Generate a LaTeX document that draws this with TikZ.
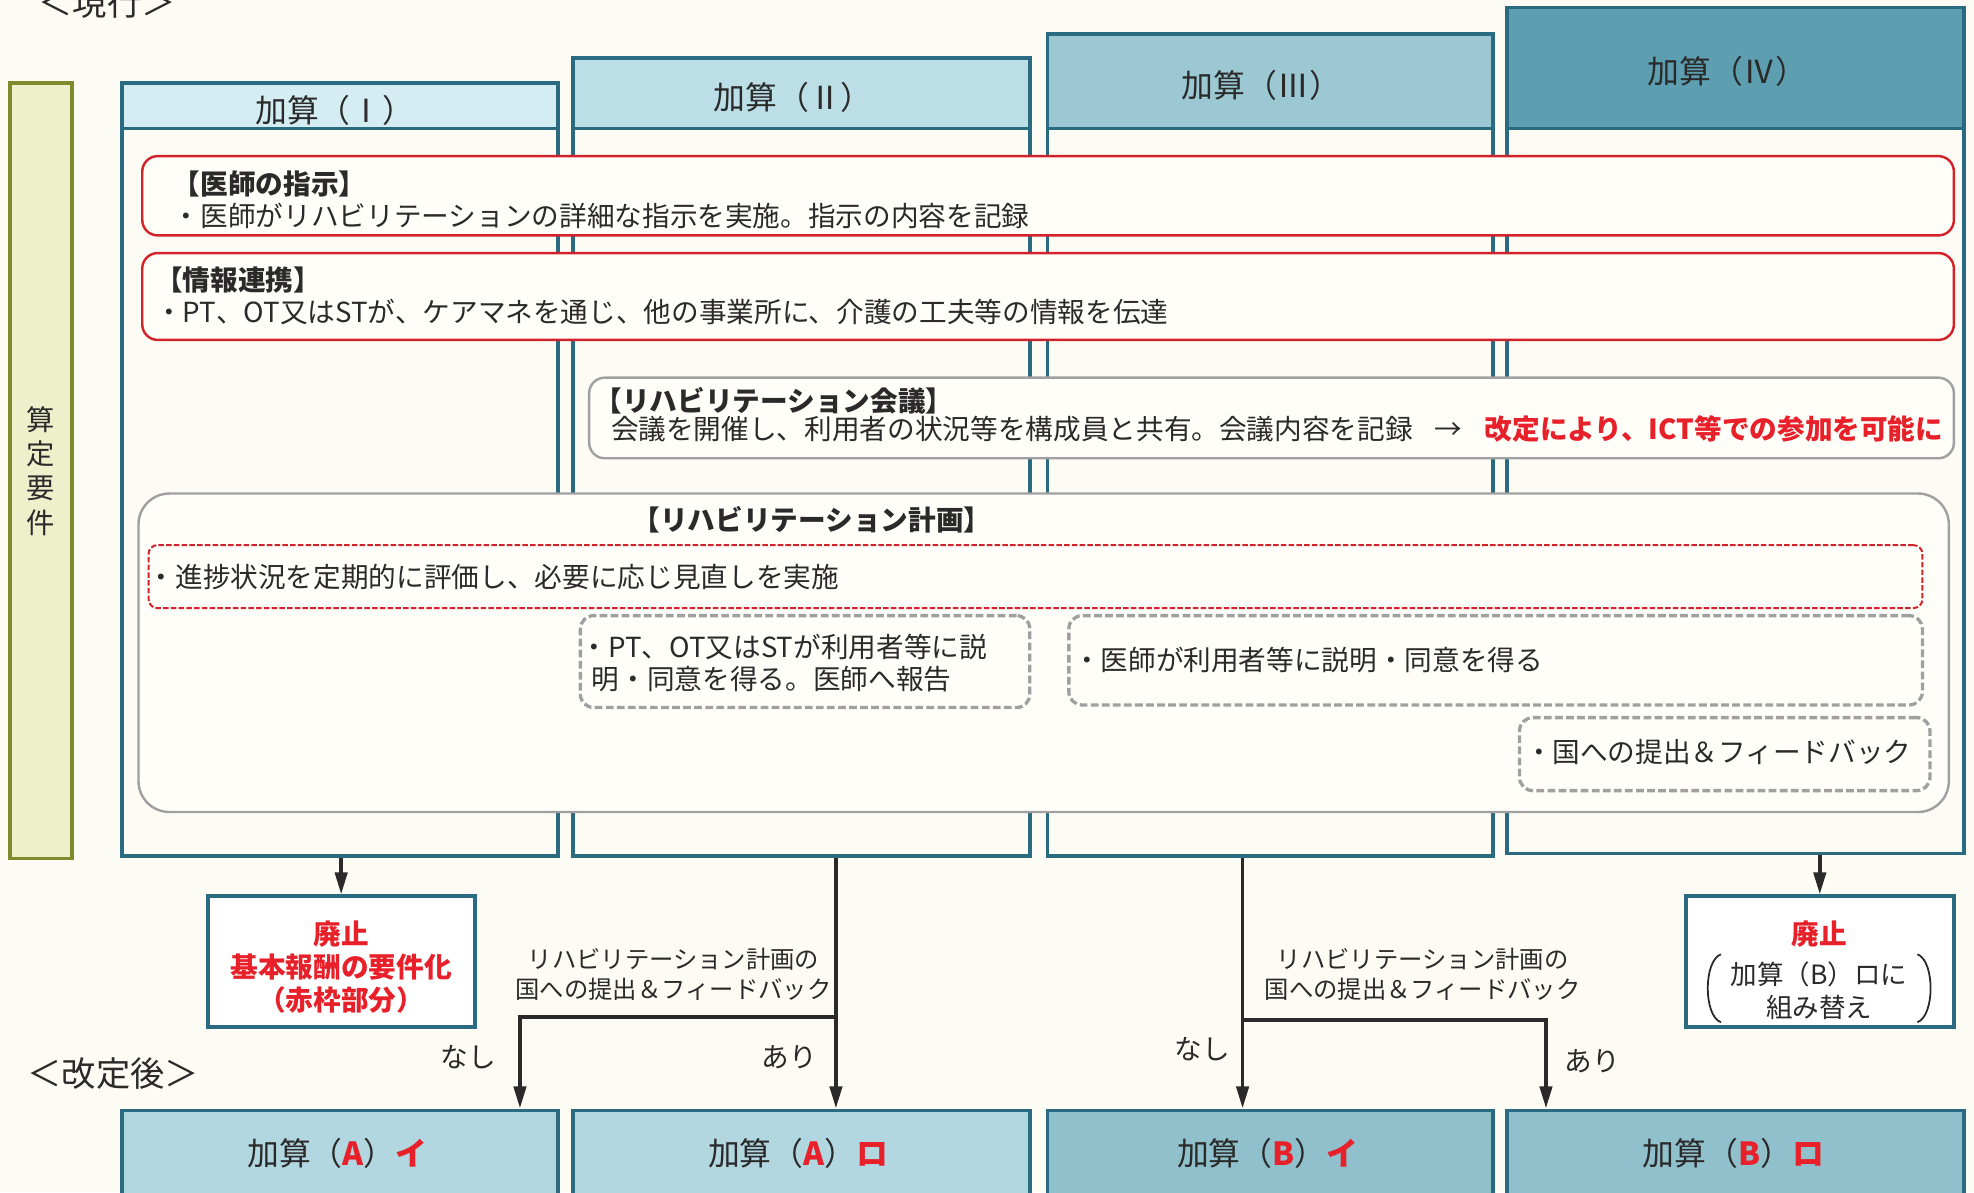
\documentclass[tikz,border=0pt]{standalone}
\usepackage{fontspec}
\setmainfont{Noto Sans CJK JP}
\usetikzlibrary{arrows.meta,fit}

\definecolor{paper}{HTML}{FDFCF4}
\definecolor{boxfill}{HTML}{FFFEF9}
\definecolor{frame}{HTML}{2B6B82}
\definecolor{hdrI}{HTML}{D4EDF2}
\definecolor{hdrII}{HTML}{BCDFE7}
\definecolor{hdrIII}{HTML}{9CC8D3}
\definecolor{hdrIV}{HTML}{5E9EB1}
\definecolor{resA}{HTML}{B3D7E0}
\definecolor{resB}{HTML}{8FC0CC}
\definecolor{boxred}{HTML}{D2232A}
\definecolor{boxgray}{HTML}{A0A0A0}
\definecolor{textred}{HTML}{E8202A}
\definecolor{barfill}{HTML}{EEF0CC}
\definecolor{barframe}{HTML}{7E8C2E}
\definecolor{ink}{HTML}{2A2A2A}

\newcommand{\redbf}[1]{\textcolor{textred}{\bfseries #1}}

\begin{document}
\begin{tikzpicture}[x=0.02cm, y=-0.02cm, font=\fontsize{12.5}{14.5}\selectfont, text=ink,
	colbox/.style={draw=frame, line width=1.7pt, inner sep=0pt},
	hdrtext/.style={inner sep=0pt, font=\fontsize{14.4}{16}\selectfont},
	reqbar/.style={draw=barframe, fill=barfill, line width=1.7pt, inner sep=0pt},
	reqred/.style={draw=boxred, fill=boxfill, line width=1.1pt, rounded corners=7pt, inner sep=0pt},
	reqgray/.style={draw=boxgray, fill=boxfill, line width=1.1pt, rounded corners=7pt, inner sep=0pt},
	dashred/.style={draw=boxred, line width=0.9pt, dash pattern=on 2.5pt off 1pt, rounded corners=4pt, inner sep=0pt},
	dashgray/.style={draw=boxgray, line width=1.5pt, dash pattern=on 3.5pt off 1.5pt, rounded corners=6pt, inner sep=0pt},
	txt/.style={anchor=west, inner sep=0pt, align=left},
	boldtxt/.style={inner sep=0pt, font=\fontsize{12.5}{15}\selectfont\bfseries},
	note/.style={font=\fontsize{11}{13.7}\selectfont, align=center, inner sep=0pt},
	stage/.style={font=\fontsize{15.5}{18}\selectfont, inner sep=0pt},
	flow/.style={draw=ink, line width=1.7pt, -{Triangle[length=10pt, width=5.5pt]}}]
	\path[use as bounding box, fill=paper] (0,0) rectangle (1568,947);

	% stage titles
	\node[stage] (now) at (85,2) {＜現行＞};
	\node[stage] (after) at (90,853) {＜改定後＞};

	% requirement bar
	\node[reqbar, fit={(8,66) (57,682)}] (req) {};
	\node[align=center, inner sep=0pt, font=\fontsize{12.8}{15.5}\selectfont] at (req.center) {算\\定\\要\\件};

	% current columns
	\node[colbox, fill=paper, fit={(97,102) (443,680)}] (c1) {};
	\node[colbox, fill=paper, fit={(455,102) (818,680)}] (c2) {};
	\node[colbox, fill=paper, fit={(832,102) (1186,680)}] (c3) {};
	\node[colbox, fill=paper, fit={(1197,102) (1560,678)}] (c4) {};
	\node[colbox, fill=hdrI, fit={(97,66) (443,102)}] (h1) {};
	\node[colbox, fill=hdrII, fit={(455,46) (818,102)}] (h2) {};
	\node[colbox, fill=hdrIII, fit={(832,27) (1186,102)}] (h3) {};
	\node[colbox, fill=hdrIV, fit={(1197,6) (1560,102)}] (h4) {};
	\node[hdrtext] at (266,88) {加算（Ⅰ）};
	\node[hdrtext] at (630,77) {加算（Ⅱ）};
	\node[hdrtext] at (1002,68) {加算（Ⅲ）};
	\node[hdrtext] at (1372,57) {加算（Ⅳ）};

	% requirements
	\node[reqred, fit={(113,124) (1552,187)}] (doc) {};
	\node[txt] (docT) at (137,158.5) {{\bfseries 【医師の指示】}\\・医師がリハビリテーションの詳細な指示を実施。指示の内容を記録};
	\node[reqred, fit={(113,201) (1552,270)}] (info) {};
	\node[txt] (infoT) at (123,235) {{\bfseries 【情報連携】}\\・PT、OT又はSTが、ケアマネを通じ、他の事業所に、介護の工夫等の情報を伝達};
	\node[reqgray, fit={(468,300) (1552,364)}] (meet) {};
	\node[txt] (meetT) at (472,318) {\bfseries 【リハビリテーション会議】};
	\node[txt] (meetB) at (485,341) {会議を開催し、利用者の状況等を構成員と共有。会議内容を記録\hspace{0.8em}→\hspace{0.8em}\redbf{改定により、ICT等での参加を可能に}};

	\node[reqgray, rounded corners=14pt, fit={(110,392) (1548,645)}] (plan) {};
	\node[boldtxt] (planT) at (645,413) {【リハビリテーション計画】};
	\node[dashred, fit={(118,433) (1527,483)}] (review) {};
	\node[txt] at (117,458) {・進捗状況を定期的に評価し、必要に応じ見直しを実施};
	\node[dashgray, fit={(461,489) (818,562)}] (pt) {};
	\node[txt] at (461,527) {・PT、OT又はSTが利用者等に説\\\hspace{0.4em}明・同意を得る。医師へ報告};
	\node[dashgray, fit={(849,489) (1527,560)}] (dr) {};
	\node[txt] at (852,524) {・医師が利用者等に説明・同意を得る};
	\node[dashgray, fit={(1207,570) (1533,628)}] (fb) {};
	\node[txt] at (1211,597) {・国への提出＆フィードバック};

	% abolished
	\node[colbox, fill=white, fit={(165,712) (377,816)}] (abol1) {};
	\node[boldtxt, align=center, text=textred] at (271,768) {廃止\\基本報酬の要件化\\（赤枠部分）};
	\node[colbox, fill=white, fit={(1339,712) (1552,816)}] (abol4) {};
	\node[boldtxt, text=textred] at (1445,742) {廃止};
	\node[align=center, inner sep=0pt, font=\fontsize{12}{14.8}\selectfont] at (1445,787) {加算（B）ロに\\組み替え};
	\draw[ink, line width=0.8pt] (1367,758) .. controls (1353,763) and (1353,807) .. (1367,812);
	\draw[ink, line width=0.8pt] (1523,758) .. controls (1537,763) and (1537,807) .. (1523,812);

	% revised
	\node[colbox, fill=resA, fit={(97,882) (443,955)}] (a1) {};
	\node[colbox, fill=resA, fit={(455,882) (818,955)}] (a2) {};
	\node[colbox, fill=resB, fit={(832,882) (1186,955)}] (b1) {};
	\node[colbox, fill=resB, fit={(1197,882) (1560,955)}] (b2) {};
	\node[hdrtext] at (268,916) {加算（\redbf{A}）\redbf{イ}};
	\node[hdrtext] at (634,916) {加算（\redbf{A}）\redbf{ロ}};
	\node[hdrtext] at (1007,916) {加算（\redbf{B}）\redbf{イ}};
	\node[hdrtext] at (1377,916) {加算（\redbf{B}）\redbf{ロ}};

	% connectors
	\draw[flow] (c1.south -| abol1.north) -- (abol1.north);
	\draw[flow] (c4.south -| abol4.north) -- (abol4.north);
	\coordinate (j2) at (664,808);
	\coordinate (k2) at (413,808);
	\draw[flow] (j2 |- c2.south) -- (j2 |- a2.north);
	\draw[flow] (j2) -- (k2) -- (k2 |- a1.north);
	\coordinate (j3) at (987,810);
	\coordinate (k3) at (1228,810);
	\draw[flow] (j3 |- c3.south) -- (j3 |- b1.north);
	\draw[flow] (j3) -- (k3) -- (k3 |- b2.north);

	\node[note] (q2) at (535,774) {リハビリテーション計画の\\国への提出＆フィードバック};
	\node[note] (q3) at (1130,774) {リハビリテーション計画の\\国への提出＆フィードバック};
	\node[inner sep=0pt] (no2) at (372,840) {なし};
	\node[inner sep=0pt] (yes2) at (627,840) {あり};
	\node[inner sep=0pt] (no3) at (955,833) {なし};
	\node[inner sep=0pt] (yes3) at (1265,843) {あり};
\end{tikzpicture}
\end{document}
